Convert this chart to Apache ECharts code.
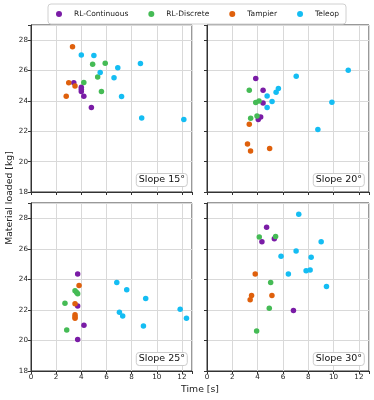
<!DOCTYPE html>
<html><head><meta charset="utf-8">
<script src="https://cdn.jsdelivr.net/npm/echarts@6/dist/echarts.min.js"></script>
<style>html,body{margin:0;padding:0;background:#fff}#c{width:374px;height:400px}</style>
</head><body><div id="c"></div>
<script>
const groups = ['RL-Continuous', 'RL-Discrete', 'Tampier', 'Teleop'];
const colors = ['#7a1ca6', '#45bb55', '#df600c', '#14bdf3'];
const slopeLabels = ['Slope 15°', 'Slope 20°', 'Slope 25°', 'Slope 30°'];
const xTicks = [0, 2, 4, 6, 8, 10, 12];
const yTicks = [18, 20, 22, 24, 26, 28];

// Slope 15°
const cont15 = [[3.4,25.2],[4.0,24.9],[4.0,24.77],[4.0,24.62],[4.2,24.3],[4.8,23.57]];
const disc15 = [[4.9,26.42],[5.9,26.48],[5.3,25.58],[4.2,25.22],[5.6,24.62]];
const tamp15 = [[3.3,27.56],[3.0,25.2],[3.5,24.98],[2.8,24.3]];
const tele15 = [[4.0,27.03],[5.0,26.99],[5.5,25.87],[6.9,26.18],[6.6,25.52],[8.7,26.46],[7.2,24.29],[8.8,22.88],[12.15,22.77]];
// Slope 20°
const cont20 = [[3.85,25.48],[4.43,24.7],[4.43,23.87],[4.24,22.94],[4.05,22.77]];
const disc20 = [[3.34,24.7],[3.85,23.89],[4.11,24.0],[3.95,23.01],[3.45,22.86]];
const tamp20 = [[3.34,22.46],[3.2,21.16],[3.44,20.7],[4.95,20.86]];
const tele20 = [[4.75,24.33],[5.14,23.96],[4.75,23.56],[5.46,24.57],[5.64,24.82],[7.05,25.63],[11.16,26.02],[9.87,23.91],[8.76,22.11]];
// Slope 25°
const cont25 = [[3.71,24.35],[3.71,22.25],[4.21,20.99],[3.71,20.07]];
const disc25 = [[3.5,23.25],[3.63,23.14],[3.71,23.06],[2.7,22.44],[2.84,20.68]];
const tamp25 = [[3.82,23.6],[3.5,22.4],[3.5,21.68],[3.5,21.56],[3.5,21.45]];
const tele25 = [[6.82,23.8],[7.61,23.32],[9.12,22.75],[7.03,21.85],[7.29,21.6],[8.94,20.95],[11.86,22.04],[12.36,21.45]];
// Slope 30°
const cont30 = [[4.71,27.41],[4.34,26.46],[5.32,26.66],[6.83,21.96]];
const disc30 = [[4.13,26.77],[5.42,26.81],[5.03,23.8],[4.92,22.11],[3.92,20.62]];
const tamp30 = [[3.81,24.35],[3.52,22.95],[3.41,22.66],[5.13,22.95]];
const tele30 = [[7.25,28.26],[9.02,26.46],[7.04,25.85],[5.85,25.52],[8.23,25.45],[7.83,24.57],[8.15,24.62],[6.43,24.35],[9.44,23.54]];

const panels = [
  [cont15, disc15, tamp15, tele15],
  [cont20, disc20, tamp20, tele20],
  [cont25, disc25, tamp25, tele25],
  [cont30, disc30, tamp30, tele30]
];

const FONT = 'DejaVu Sans';
const gridPos = [
  {left: 31, top: 25, width: 161, height: 167},
  {left: 207, top: 25, width: 162, height: 167},
  {left: 31, top: 203, width: 161, height: 168},
  {left: 207, top: 203, width: 162, height: 168}
];

const grids = gridPos.map(g => Object.assign({show: true, borderColor: '#333', borderWidth: 1, backgroundColor: 'transparent'}, g));
const xAxes = gridPos.map((g, i) => ({
  type: 'value', gridIndex: i, min: 0, max: 12.8, interval: 2,
  axisLine: {show: true, lineStyle: {color: '#333'}},
  axisTick: {show: true, length: 3, lineStyle: {color: '#333'}},
  axisLabel: {show: i >= 2, color: '#222', fontFamily: FONT, fontSize: 7.2, margin: 3,
    formatter: v => xTicks.includes(v) ? String(v) : ''},
  splitLine: {show: true, lineStyle: {color: '#d9d9d9', width: 1}}
}));
const yAxes = gridPos.map((g, i) => ({
  type: 'value', gridIndex: i, min: 18, max: 29, interval: 2,
  axisLine: {show: true, lineStyle: {color: '#333'}},
  axisTick: {show: true, length: 3, lineStyle: {color: '#333'}},
  axisLabel: {show: i % 2 === 0, color: '#222', fontFamily: FONT, fontSize: 7.2, margin: 3,
    formatter: v => yTicks.includes(v) ? String(v) : ''},
  splitLine: {show: true, lineStyle: {color: '#d9d9d9', width: 1}}
}));

const series = [];
panels.forEach((p, i) => {
  p.forEach((d, k) => {
    series.push({
      type: 'scatter', name: groups[k], xAxisIndex: i, yAxisIndex: i,
      data: d, symbolSize: 5.5, itemStyle: {color: colors[k], opacity: 1},
      emphasis: {disabled: true}
    });
  });
});

const titles = gridPos.map((g, i) => ({
  text: slopeLabels[i],
  right: 374 - (g.left + g.width) + 4,
  top: g.top + g.height - 19,
  padding: [2, 3, 2, 3],
  backgroundColor: '#fff',
  borderColor: '#cccccc', borderWidth: 1, borderRadius: 3,
  textStyle: {fontFamily: FONT, fontSize: 9.5, fontWeight: 'normal', color: '#111'}
}));

const chart = echarts.init(document.getElementById('c'), null, {renderer: 'canvas'});
chart.setOption({
  animation: false,
  backgroundColor: '#fff',
  title: titles,
  legend: {
    data: groups, left: 48, top: 4,
    padding: [6, 7, 6, 8], itemGap: 20,
    icon: 'circle', itemWidth: 6, itemHeight: 6,
    borderColor: '#d0d0d0', borderWidth: 1, borderRadius: 3,
    textStyle: {fontFamily: FONT, fontSize: 7.5, color: '#222', padding: [0, 0, 0, 7]}
  },
  grid: grids, xAxis: xAxes, yAxis: yAxes, series: series,
  graphic: [
    {type: 'text', x: 10, y: 198, rotation: Math.PI / 2,
      style: {text: 'Material loaded [kg]', font: '9.3px "DejaVu Sans"', fill: '#222', align: 'center', verticalAlign: 'middle'}},
    {type: 'text', x: 200, y: 390,
      style: {text: 'Time [s]', font: '9.3px "DejaVu Sans"', fill: '#222', align: 'center', verticalAlign: 'middle'}}
  ]
});
</script></body></html>
